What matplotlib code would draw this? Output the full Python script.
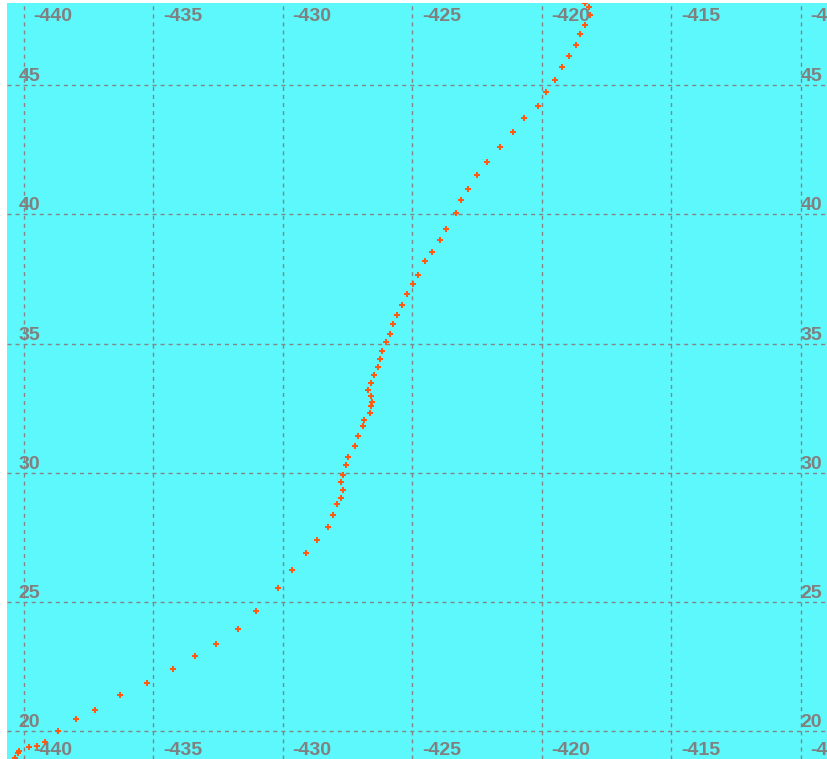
import matplotlib
matplotlib.use('Agg')
import matplotlib.pyplot as plt
import matplotlib.transforms as mtransforms

# track points (longitude, latitude)
lon = [-440.34, -440.22, -440.18, -439.80, -439.49, -439.18, -438.68, -437.98, -437.25, -436.28,
       -435.24, -434.24, -433.39, -432.58, -431.73, -431.03, -430.18, -429.64, -429.10, -428.68,
       -428.25, -428.06, -427.90, -427.75, -427.67, -427.75, -427.67, -427.56, -427.48, -427.21,
       -427.09, -426.90, -426.86, -426.63, -426.59, -426.55, -426.59, -426.71, -426.59, -426.48,
       -426.32, -426.24, -426.17, -426.01, -425.86, -425.74, -425.59, -425.39, -425.20, -424.97,
       -424.78, -424.51, -424.24, -423.93, -423.70, -423.31, -423.12, -422.85, -422.50, -422.11,
       -421.61, -421.11, -420.68, -420.14, -419.83, -419.49, -419.22, -418.95, -418.68, -418.52,
       -418.33, -418.14, -418.17, -418.33]
lat = [18.96, 19.15, 19.23, 19.38, 19.42, 19.57, 20.00, 20.47, 20.81, 21.39,
       21.86, 22.40, 22.90, 23.37, 23.95, 24.65, 25.54, 26.23, 26.89, 27.39,
       27.90, 28.36, 28.79, 29.02, 29.33, 29.64, 29.91, 30.30, 30.61, 31.03,
       31.42, 31.81, 32.04, 32.31, 32.58, 32.74, 32.97, 33.20, 33.47, 33.78,
       34.09, 34.40, 34.71, 35.06, 35.37, 35.76, 36.11, 36.49, 36.92, 37.31,
       37.65, 38.20, 38.55, 39.01, 39.44, 40.05, 40.56, 40.98, 41.53, 42.03,
       42.61, 43.19, 43.73, 44.20, 44.74, 45.20, 45.71, 46.13, 46.56, 46.98,
       47.33, 47.72, 48.03, 48.18]

xticks = [-440, -435, -430, -425, -420, -415, -410]
yticks = [20, 25, 30, 35, 40, 45]

plt.rcParams['lines.scale_dashes'] = False

fig = plt.figure(figsize=(8.28, 7.59), dpi=100)
fig.patch.set_facecolor('white')
ax = fig.add_axes([6.7/828, 0, 1 - 6.7/828, 1 - 2.7/759])
ax.set_facecolor('#5cf8fc')
ax.set_xlim(-440.656, -408.946)
ax.set_ylim(18.916, 48.198)
for s in ax.spines.values():
    s.set_visible(False)
ax.set_xticks([])
ax.set_yticks([])

grid_kw = dict(color='#858585', lw=1.0, linestyle=(0, (2.9, 2.9)), zorder=1)
for xv in xticks:
    ax.axvline(xv, **grid_kw)
for yv in yticks:
    ax.axhline(yv, **grid_kw)

ax.plot(lon, lat, linestyle='none', marker='P', markersize=4.4,
        color='#ff5a14', markeredgewidth=0, zorder=3)

font = dict(family=['Liberation Sans', 'DejaVu Sans'], fontweight='bold',
            fontsize=14, color='#808080')
xtrans = mtransforms.blended_transform_factory(ax.transData, ax.transAxes)
for xv in xticks:
    # top and bottom labels inside the plot
    ax.annotate(str(xv), xy=(xv, 1), xycoords=xtrans, xytext=(10, -18.3),
                textcoords='offset pixels', ha='left', va='baseline',
                annotation_clip=False, zorder=2, **font)
    ax.annotate(str(xv), xy=(xv, 0), xycoords=xtrans, xytext=(10, 4),
                textcoords='offset pixels', ha='left', va='baseline',
                annotation_clip=False, zorder=2, **font)
for yv in yticks:
    ax.annotate(str(yv), xy=(xticks[0], yv), xytext=(-5, 4),
                textcoords='offset pixels', ha='left', va='baseline',
                annotation_clip=False, zorder=2, **font)
    ax.annotate(str(yv), xy=(xticks[-1], yv), xytext=(0, 4),
                textcoords='offset pixels', ha='left', va='baseline',
                annotation_clip=False, zorder=2, **font)

plt.savefig('out.png', dpi=100)
